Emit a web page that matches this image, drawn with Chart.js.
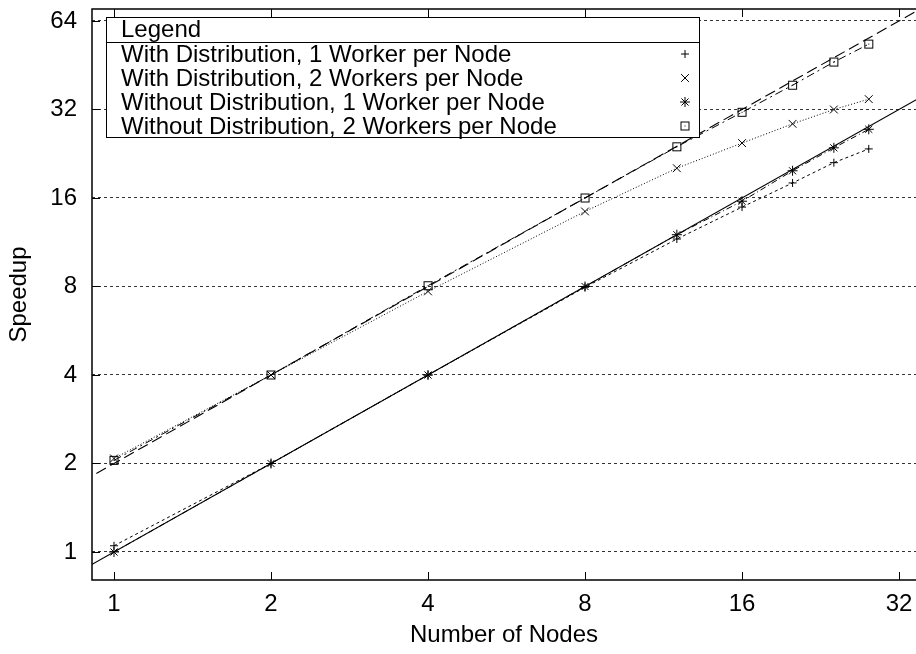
<!DOCTYPE html>
<html>
<head>
<meta charset="utf-8">
<title>Speedup</title>
<script src="https://cdn.jsdelivr.net/npm/chart.js@4/dist/chart.umd.min.js"></script>
<style>
  html, body { margin: 0; padding: 0; background: #fff; }
  #wrap { width: 916px; height: 654px; }
</style>
</head>
<body>
<div id="wrap"><canvas id="graficoSpeedup" width="916" height="654"></canvas></div>
<script>
/* ── DATOS ── */
var nodes = [1, 2, 4, 8, 12, 16, 20, 24, 28];
var withDist1    = [1.05, 2.0, 4.0, 7.95, 11.6, 14.9, 18.0, 21.1, 23.5];
var withDist2    = [2.08, 4.0, 7.7, 14.4, 20.2, 24.6, 28.6, 32.0, 34.7];
var withoutDist1 = [1.0, 2.0, 4.0, 8.0, 12.0, 15.6, 19.8, 23.7, 27.4];
var withoutDist2 = [2.05, 4.0, 8.05, 16.0, 23.9, 31.3, 38.7, 46.4, 53.4];

// ideal speedup lines (end points only, clipped by the plot area)
var idealX      = [0.5, 64];
var idealSingle = [0.5, 64];
var idealDouble = [1, 128];

var xTicks = [1, 2, 4, 8, 16, 32];
var yTicks = [1, 2, 4, 8, 16, 32, 64];

var seriesLabels = [
    'With Distribution, 1 Worker per Node',
    'With Distribution, 2 Workers per Node',
    'Without Distribution, 1 Worker per Node',
    'Without Distribution, 2 Workers per Node'
];

function puntos(xs, ys) {
    return xs.map(function (x, i) { return { x: x, y: ys[i] }; });
}

/* cuadrado con punto central */
function crearCuadrado() {
    var c = document.createElement('canvas');
    c.width = 11; c.height = 11;
    var g = c.getContext('2d');
    g.strokeStyle = '#000';
    g.lineWidth = 1;
    g.strokeRect(1.5, 1.5, 8, 8);
    g.fillStyle = '#000';
    g.fillRect(5, 5, 1, 1);
    return c;
}
var cuadrado = crearCuadrado();

/* ── marco, ticks hacia dentro ── */
var marcoPlugin = {
    id: 'marco',
    afterDatasetsDraw: function (chart) {
        var ctx = chart.ctx, a = chart.chartArea;
        var xs = chart.scales.x, ys = chart.scales.y;
        var largo = 8;
        ctx.save();
        ctx.strokeStyle = '#000';
        ctx.lineWidth = 1.5;
        ctx.setLineDash([]);
        ctx.beginPath();
        ctx.moveTo(a.right + 2, a.top);
        ctx.lineTo(a.left, a.top);
        ctx.lineTo(a.left, a.bottom);
        ctx.lineTo(a.right + 2, a.bottom);
        ctx.stroke();
        ctx.lineWidth = 1;
        ctx.beginPath();
        xTicks.forEach(function (v) {
            var px = Math.round(xs.getPixelForValue(v)) + 0.5;
            ctx.moveTo(px, a.bottom); ctx.lineTo(px, a.bottom - largo);
            ctx.moveTo(px, a.top);    ctx.lineTo(px, a.top + largo);
        });
        yTicks.forEach(function (v) {
            var py = Math.round(ys.getPixelForValue(v)) + 0.5;
            ctx.moveTo(a.left, py); ctx.lineTo(a.left + largo, py);
        });
        ctx.stroke();
        ctx.restore();
    }
};

/* ── leyenda con caja y título ── */
var leyendaPlugin = {
    id: 'leyenda',
    afterDraw: function (chart) {
        var ctx = chart.ctx;
        var box = { left: 106.5, top: 17.5, right: 699.5, bottom: 137.5 };
        var textoX = 121, marcaX = 685;
        var base = [62, 86, 110, 134];
        ctx.save();
        ctx.fillStyle = '#fff';
        ctx.fillRect(box.left, box.top, box.right - box.left, box.bottom - box.top);
        ctx.strokeStyle = '#000';
        ctx.lineWidth = 1;
        ctx.setLineDash([]);
        ctx.strokeRect(box.left, box.top, box.right - box.left, box.bottom - box.top);
        ctx.beginPath();
        ctx.moveTo(box.left, 42.5);
        ctx.lineTo(box.right, 42.5);
        ctx.stroke();

        ctx.fillStyle = '#000';
        ctx.font = '24px "Liberation Sans", Arial, sans-serif';
        ctx.textAlign = 'left';
        ctx.textBaseline = 'alphabetic';
        ctx.fillText('Legend', textoX, 37);

        var n = 0;
        chart.data.datasets.forEach(function (ds) {
            if (!ds.enLeyenda) return;
            var y = base[n];
            ctx.fillStyle = '#000';
            ctx.fillText(ds.label, textoX, y);
            Chart.helpers.drawPoint(ctx, {
                pointStyle: ds.pointStyle,
                radius: ds.pointRadius,
                rotation: 0,
                borderWidth: 1
            }, marcaX, y - 8);
            n++;
        });
        ctx.restore();
    }
};

function serie(label, ys, estilo, radio, dash) {
    return {
        label: label,
        data: puntos(nodes, ys),
        showLine: true,
        enLeyenda: true,
        borderColor: '#000',
        backgroundColor: 'rgba(0,0,0,0)',
        borderWidth: 1,
        borderDash: dash,
        pointStyle: estilo,
        pointRadius: radio,
        pointBorderColor: '#000',
        pointBorderWidth: 1,
        pointBackgroundColor: 'rgba(0,0,0,0)'
    };
}

function ideal(ys, dash) {
    return {
        label: '',
        data: puntos(idealX, ys),
        showLine: true,
        enLeyenda: false,
        borderColor: '#000',
        borderWidth: 1.1,
        borderDash: dash,
        pointRadius: 0
    };
}

function ajusteEje(medida, valor) {
    return function (scale) {
        scale[medida] = valor;
        scale.paddingTop = 0; scale.paddingBottom = 0;
        scale.paddingLeft = 0; scale.paddingRight = 0;
    };
}

Chart.defaults.font.family = '"Liberation Sans", Arial, sans-serif';
Chart.defaults.font.size = 24;
Chart.defaults.color = '#000';

new Chart(document.getElementById('graficoSpeedup'), {
    type: 'scatter',
    data: {
        datasets: [
            ideal(idealSingle, []),
            ideal(idealDouble, [11, 5]),
            serie(seriesLabels[0], withDist1, 'cross', 4, [3, 3]),
            serie(seriesLabels[1], withDist2, 'crossRot', 5.5, [1, 2]),
            serie(seriesLabels[2], withoutDist1, 'star', 5, [6, 3, 1, 3]),
            serie(seriesLabels[3], withoutDist2, cuadrado, 5, [8, 4, 2, 4])
        ]
    },
    options: {
        responsive: false,
        animation: false,
        devicePixelRatio: 1,
        layout: { autoPadding: false, padding: { top: 9, right: 0, left: 0, bottom: 0 } },
        plugins: { legend: { display: false }, tooltip: { enabled: false } },
        scales: {
            x: {
                type: 'logarithmic',
                min: 0.9075, max: 34.49,
                bounds: 'data',
                afterBuildTicks: function (s) { s.ticks = xTicks.map(function (v) { return { value: v }; }); },
                afterFit: ajusteEje('height', 74),
                ticks: { padding: 10, maxRotation: 0, autoSkip: false, callback: function (v) { return String(v); } },
                grid: { display: false, drawTicks: false },
                border: { display: false },
                title: { display: true, text: 'Number of Nodes', padding: { top: 0, bottom: 4 } }
            },
            y: {
                type: 'logarithmic',
                min: 0.803, max: 70.3,
                bounds: 'data',
                afterBuildTicks: function (s) { s.ticks = yTicks.map(function (v) { return { value: v }; }); },
                afterFit: ajusteEje('width', 92),
                ticks: { padding: 15, autoSkip: false, callback: function (v) { return String(v); } },
                grid: { display: true, drawTicks: false, color: '#333', lineWidth: 1 },
                border: { display: false, dash: [3, 3] },
                title: { display: true, text: 'Speedup', padding: { top: 5, bottom: 0 } }
            }
        }
    },
    plugins: [marcoPlugin, leyendaPlugin]
});
</script>
</body>
</html>
